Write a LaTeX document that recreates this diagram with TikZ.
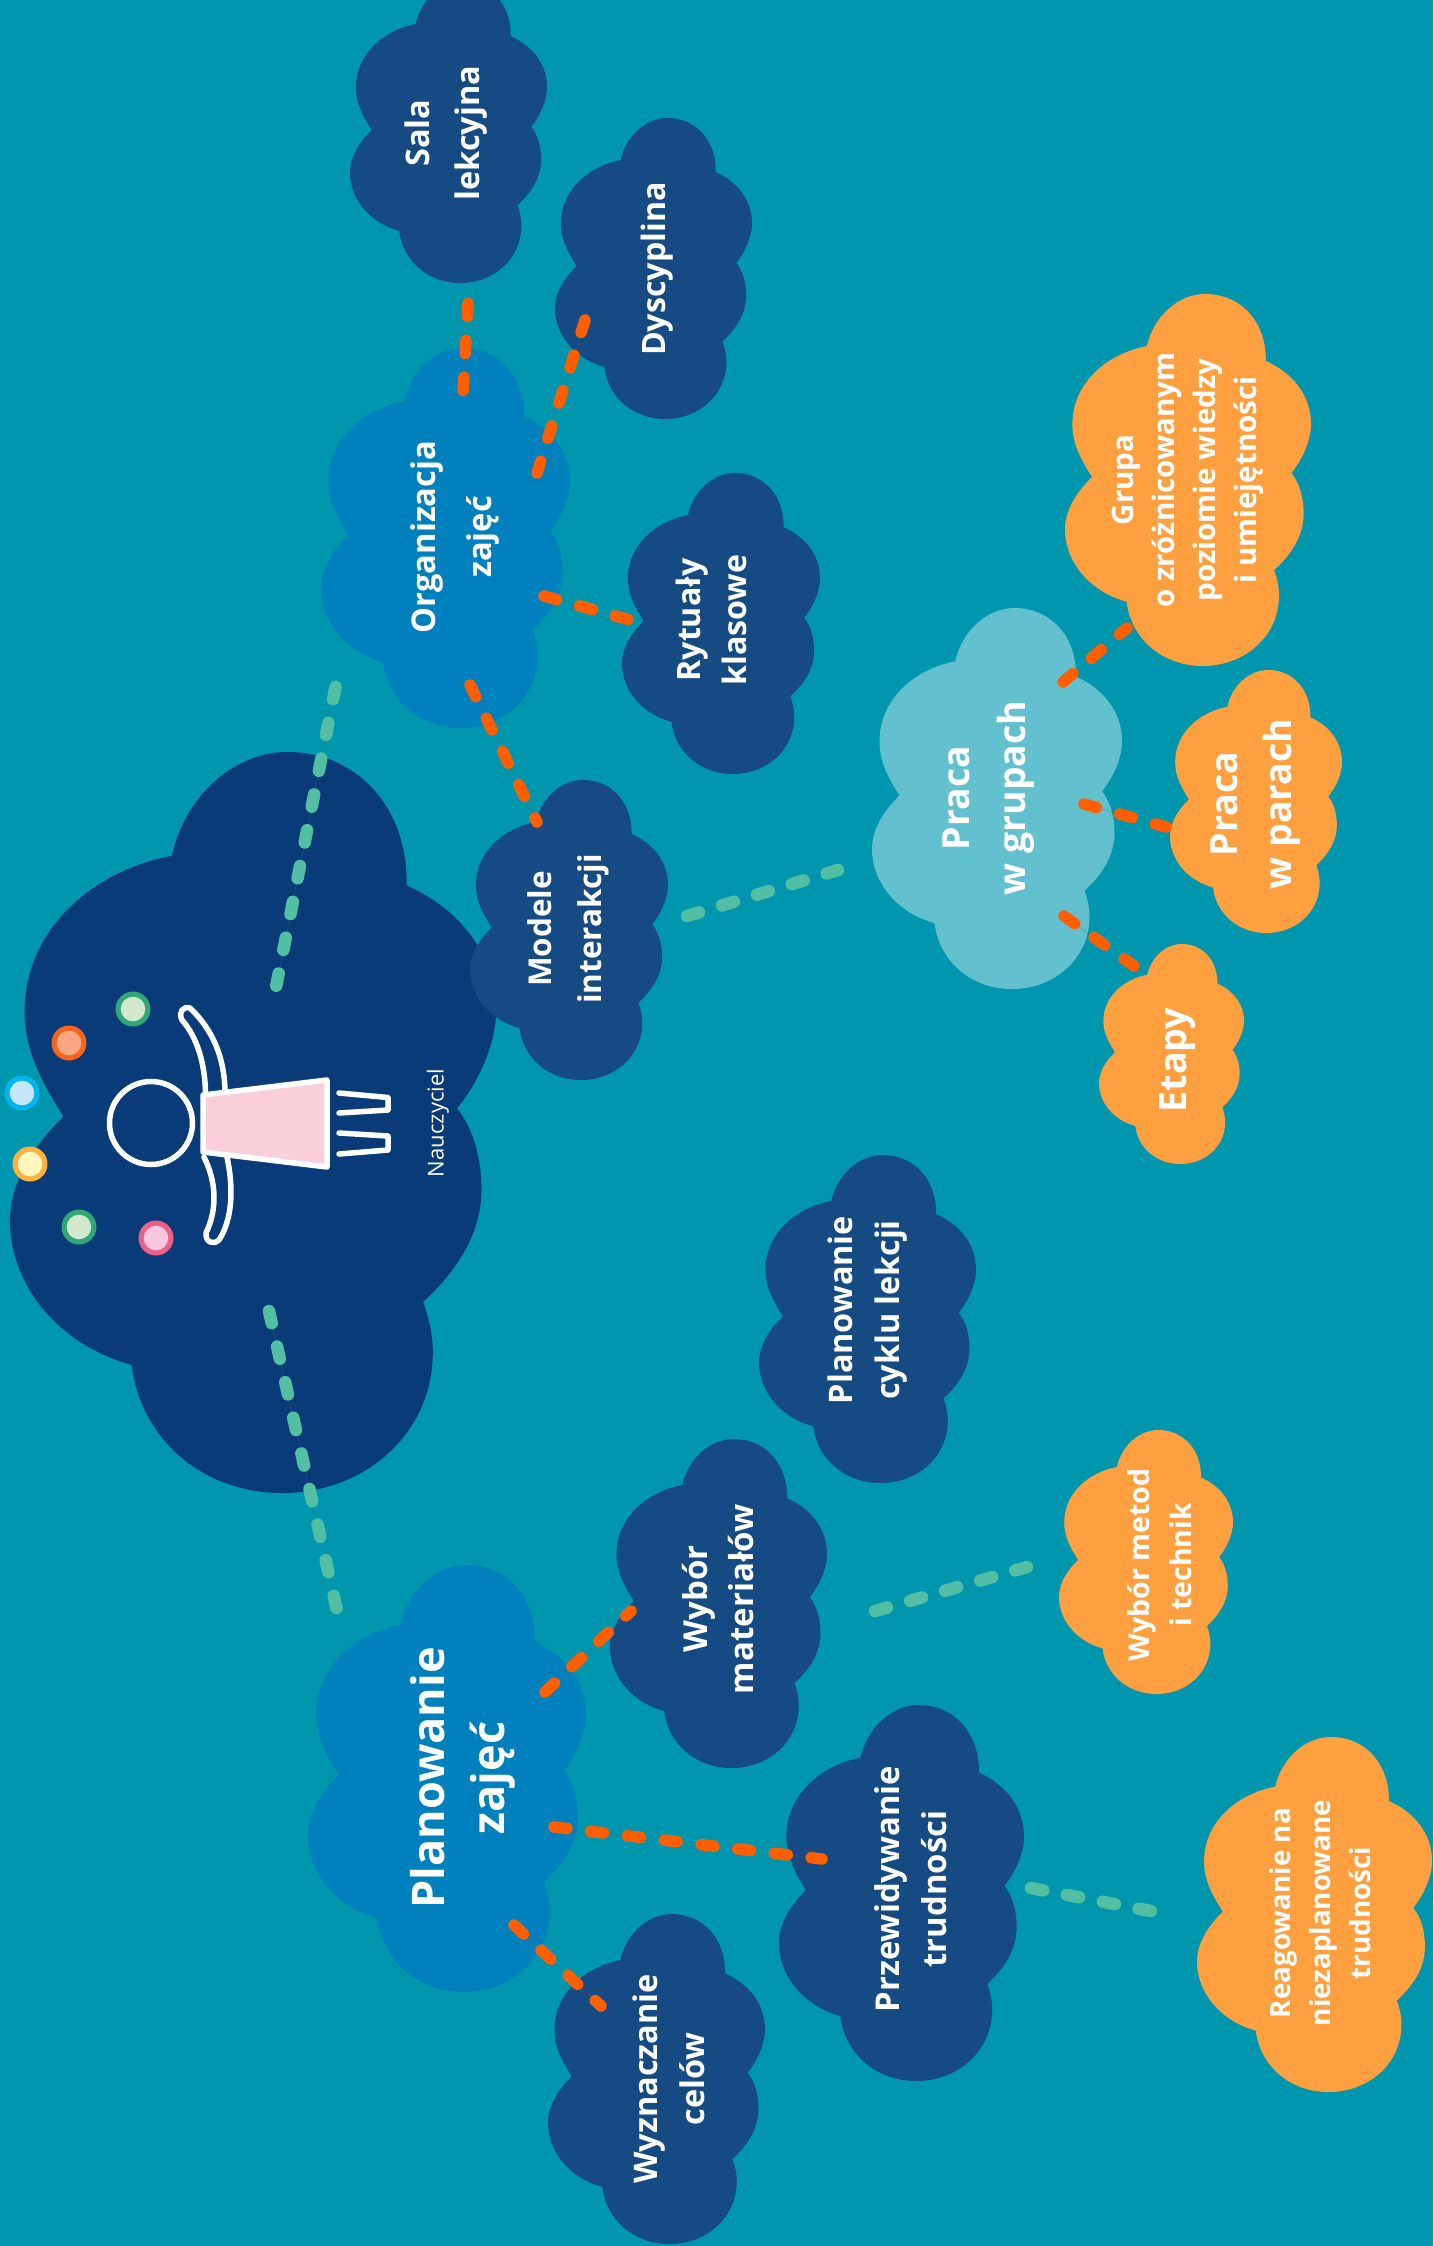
\documentclass[tikz,border=0pt]{standalone}
\usepackage{fontspec}
\setmainfont{Open Sans}
\definecolor{bgc}{HTML}{0096AE}
\definecolor{navy}{HTML}{093B78}
\definecolor{dark}{HTML}{164A82}
\definecolor{midblue}{HTML}{0080BC}
\definecolor{lightteal}{HTML}{63C1CF}
\definecolor{orangec}{HTML}{FFA040}
\definecolor{dashor}{HTML}{FF5F00}
\definecolor{dashte}{HTML}{52BFA5}
\definecolor{pinkc}{HTML}{FBCFD9}
\tikzset{
  cloudfill/.style={fill=#1,draw=none},
  orlink/.style={draw=dashor,line width=11.5pt,line cap=round,dash pattern=on 13pt off 24pt},
  telink/.style={draw=dashte,line width=12.5pt,line cap=round,dash pattern=on 12.5pt off 24pt},
  hair/.style={draw=black!60,line width=0.4pt,opacity=0.5},
  lab/.style={rotate=90,align=center,text=white,inner sep=0pt,font=\bfseries},
  fig/.style={draw=white,line width=5.5pt,line cap=round,line join=round},
}
\newcommand{\cloudshape}[5]{%
  \pgfmathsetmacro{\cw}{#4-#2}\pgfmathsetmacro{\ch}{#5-#3}%
  \fill[cloudfill=#1,shift={(#2,#3)},x=\cw pt,y=-\ch pt]
   (.333,.14) .. controls (.36,.06) and (.46,0) .. (.57,0)
   .. controls (.72,0) and (.82,.08) .. (.816,.18)
   .. controls (.92,.21) and (1,.27) .. (1,.35)
   .. controls (1,.39) and (.97,.44) .. (.92,.481)
   .. controls (.955,.51) and (.97,.55) .. (.97,.59)
   .. controls (.97,.65) and (.92,.70) .. (.85,.742)
   .. controls (.865,.77) and (.87,.79) .. (.87,.81)
   .. controls (.87,.92) and (.73,1) .. (.56,1)
   .. controls (.40,1) and (.27,.93) .. (.25,.827)
   .. controls (.10,.80) and (0,.72) .. (0,.632)
   .. controls (0,.58) and (.05,.53) .. (.11,.492)
   .. controls (.06,.44) and (.03,.40) .. (.03,.35)
   .. controls (.03,.24) and (.17,.16) .. cycle;}
\newcommand{\cloudtext}[6]{\node[lab,font=\fontsize{#4}{#5}\selectfont\bfseries] (#1) at (#2,#3) {#6};}
\newcommand{\orangelink}[2]{\draw[hair] (#1)--(#2);\draw[orlink] (#1)--(#2);}
\newcommand{\teallink}[2]{\draw[hair] (#1)--(#2);\draw[telink] (#1)--(#2);}
\newcommand{\jugball}[5]{\fill[#4] (#2,#3) circle[radius=17.5pt];\fill[#5] (#2,#3) circle[radius=12.3pt];\coordinate (#1) at (#2,#3);}
\definecolor{gA}{HTML}{2FA876}\definecolor{gB}{HTML}{D3E8CE}
\definecolor{oA}{HTML}{F4651F}\definecolor{oB}{HTML}{F9A882}
\definecolor{bA}{HTML}{00B4EE}\definecolor{bB}{HTML}{C6E6FA}
\definecolor{yA}{HTML}{FBB040}\definecolor{yB}{HTML}{FFF6BD}
\definecolor{pA}{HTML}{EC5F87}\definecolor{pB}{HTML}{F8C6DE}
\begin{document}
\begin{tikzpicture}[x=1pt,y=-1pt]
\useasboundingbox (0,0) rectangle (1433,2246);
\clip (0,0) rectangle (1433,2246);
\fill[bgc] (0,0) rectangle (1433,2246);
% clouds
\cloudshape{navy}{10}{752}{496}{1493}
\cloudshape{dark}{350}{-18}{547}{283}
\cloudshape{dark}{555}{118}{752}{419}
\cloudshape{midblue}{321}{348}{570}{728}
\cloudshape{dark}{622}{473}{820}{774}
\cloudshape{dark}{470}{780}{668}{1080}
\cloudshape{lightteal}{872}{608}{1122}{989}
\cloudshape{orangec}{1065}{294}{1311}{666}
\cloudshape{orangec}{1170}{670}{1342}{933}
\cloudshape{orangec}{1099}{944}{1244}{1164}
\cloudshape{dark}{759}{1155}{976}{1483}
\cloudshape{dark}{610}{1439}{827}{1768}
\cloudshape{orangec}{1059}{1430}{1233}{1694}
\cloudshape{midblue}{308}{1565}{586}{1992}
\cloudshape{dark}{779}{1705}{1024}{2081}
\cloudshape{dark}{548}{1914}{765}{2244}
\cloudshape{orangec}{1197}{1737}{1432}{2092}
% labels
\cloudtext{sala}{446}{133}{32.5}{50}{Sala\\lekcyjna}
\cloudtext{dysc}{657}{269}{32.2}{50}{Dyscyplina}
\cloudtext{org}{455}{537}{32.7}{56}{Organizacja\\zajęć}
\cloudtext{ryt}{711}{620}{32.2}{46}{Rytuały\\klasowe}
\cloudtext{mod}{568}{929}{31.5}{50}{Modele\\interakcji}
\cloudtext{grup}{989}{798}{37.4}{56}{Praca\\w grupach}
\cloudtext{grupa}{1188}{480}{29.5}{41}{Grupa\\o zróżnicowanym\\poziomie wiedzy\\i umiejętności}
\cloudtext{para}{1256}{804}{37.5}{54}{Praca\\w parach}
\cloudtext{etapy}{1178}{1060}{37.6}{42}{Etapy}
\cloudtext{cykl}{868}{1310}{32.4}{47}{Planowanie\\cyklu lekcji}
\cloudtext{mat}{718}{1599}{33}{46}{Wybór\\materiałów}
\cloudtext{metod}{1160}{1565}{28.5}{42}{Wybór metod\\i technik}
\cloudtext{plan}{463}{1778}{45}{60}{Planowanie\\zajęć}
\cloudtext{prz}{911}{1889}{32.8}{47}{Przewidywanie\\trudności}
\cloudtext{wyzn}{669}{2079}{32.5}{47}{Wyznaczanie\\celów}
\cloudtext{reag}{1320}{1913}{27.8}{40}{Reagowanie na\\niezaplanowane\\trudności}
\node[rotate=90,text=white,inner sep=0pt,font=\fontsize{22}{24}\selectfont] (nau) at (438,1123) {Nauczyciel};
% figure
\draw[fig,fill=pinkc] (203,1095) -- (327,1080) -- (327,1167) -- (203,1152) -- cycle;
\draw[fig] (151,1123) circle[radius=41.5pt];
\draw[fig] (205.5,1093) .. controls (205,1063) and (197,1037) .. (182,1020)
  .. controls (178,1012) and (183,1006) .. (190,1008)
  .. controls (213,1030) and (224,1057) .. (225,1090);
\draw[fig] (204,1157) .. controls (217,1183) and (217,1210) .. (206,1233)
  .. controls (205,1243) and (215,1245) .. (219,1240)
  .. controls (232,1220) and (234,1190) .. (227,1157);
\draw[fig] (339,1093) -- (388,1097.5) -- (388,1110) -- (339,1113);
\draw[fig] (339,1133) -- (388,1136) -- (388,1150) -- (339,1154);
\jugball{b1}{133}{1009}{gA}{gB}
\jugball{b2}{69}{1043}{oA}{oB}
\jugball{b3}{22}{1093}{bA}{bB}
\jugball{b4}{30}{1164}{yA}{yB}
\jugball{b5}{79}{1227}{gA}{gB}
\jugball{b6}{156}{1238}{pA}{pB}
% connector ends
\coordinate (a1) at (468,303.5); \coordinate (a2) at (463,391.5);
\coordinate (b1e) at (585,320); \coordinate (b2e) at (537,473);
\coordinate (c1) at (544,596); \coordinate (c2) at (630,620);
\coordinate (d1) at (470,685); \coordinate (d2) at (537,822);
\coordinate (e1) at (335.5,687); \coordinate (e2) at (276,987);
\coordinate (f1) at (269,1311); \coordinate (f2) at (336.5,1608);
\coordinate (g1) at (687,916); \coordinate (g2) at (838,870);
\coordinate (h1) at (1063,682); \coordinate (h2) at (1127,628);
\coordinate (i1) at (1084,804); \coordinate (i2) at (1166,827);
\coordinate (j1) at (1064,916); \coordinate (j2) at (1134,966);
\coordinate (k1) at (545,1692); \coordinate (k2) at (631,1611);
\coordinate (l1) at (554,1827); \coordinate (l2) at (822,1859);
\coordinate (m1) at (514,1925); \coordinate (m2) at (601,2006);
\coordinate (n1) at (875,1611); \coordinate (n2) at (1027,1567);
\coordinate (o1) at (1031,1888); \coordinate (o2) at (1151,1911);
\orangelink{a1}{a2}
\orangelink{b1e}{b2e}
\orangelink{c1}{c2}
\orangelink{d1}{d2}
\teallink{e1}{e2}
\teallink{f1}{f2}
\teallink{g1}{g2}
\orangelink{h1}{h2}
\orangelink{i1}{i2}
\orangelink{j1}{j2}
\orangelink{k1}{k2}
\orangelink{l1}{l2}
\orangelink{m1}{m2}
\teallink{n1}{n2}
\teallink{o1}{o2}
\end{tikzpicture}
\end{document}
